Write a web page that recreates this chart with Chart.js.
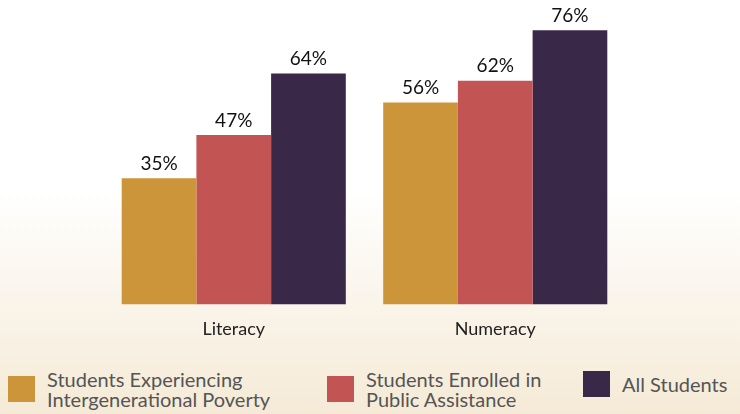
<!DOCTYPE html>
<html>
<head>
<meta charset="utf-8">
<script src="https://cdn.jsdelivr.net/npm/chart.js@4"></script>
<style>
    html, body { margin: 0; padding: 0; }
    body {
        width: 740px;
        height: 414px;
        overflow: hidden;
        background: linear-gradient(to bottom, #ffffff 0px, #ffffff 190px, #f5ead6 414px);
        font-family: Lato, "Open Sans", sans-serif;
    }
    #wrap { position: relative; width: 740px; height: 350px; }
    #legend { position: relative; height: 64px; }
    .item { position: absolute; top: 19px; display: flex; align-items: center; }
    .box { width: 27px; height: 26px; margin-right: 12px; }
    .txt { color: #555; font-size: 20px; line-height: 20px; }
</style>
</head>
<body>
<div id="wrap"><canvas id="chart"></canvas></div>
<div id="legend"></div>
<script>
const categories = ["Literacy", "Numeracy"];
const seriesNames = [
    ["Students Experiencing", "Intergenerational Poverty"],
    ["Students Enrolled in", "Public Assistance"],
    ["All Students"],
];
const povertyValues = [35, 56];
const assistanceValues = [47, 62];
const allValues = [64, 76];
const colors = ["#cc953a", "#c25454", "#3a2848"];

// percent labels above each bar
const barLabels = {
    id: "barLabels",
    afterDatasetsDraw(chart) {
        const ctx = chart.ctx;
        ctx.save();
        ctx.font = "19px Lato";
        ctx.fillStyle = "#111";
        ctx.textAlign = "center";
        ctx.textBaseline = "bottom";
        chart.data.datasets.forEach((ds, i) => {
            chart.getDatasetMeta(i).data.forEach((bar, j) => {
                ctx.fillText(ds.data[j] + "%", bar.x, bar.y - 5);
            });
        });
        ctx.restore();
    },
};

const allSeries = [povertyValues, assistanceValues, allValues];
new Chart(document.getElementById("chart"), {
    type: "bar",
    data: {
        labels: categories,
        datasets: allSeries.map((data, i) => ({
            label: seriesNames[i].join(" "),
            data,
            backgroundColor: colors[i],
            borderWidth: 0,
        })),
    },
    options: {
        responsive: true,
        maintainAspectRatio: false,
        animation: false,
        categoryPercentage: 0.857,
        barPercentage: 1,
        layout: { padding: { left: 103, right: 114, top: 0, bottom: 4 } },
        plugins: { legend: { display: false }, tooltip: { enabled: false } },
        scales: {
            x: {
                grid: { display: false },
                border: { display: false },
                ticks: { color: "#222", font: { family: "Lato", size: 18 }, padding: 6 },
            },
            y: { display: false, min: 0, max: 84.4 },
        },
    },
    plugins: [barLabels],
});

const legend = document.getElementById("legend");
const legendX = [8, 327, 583];
seriesNames.forEach((lines, i) => {
    const item = document.createElement("div");
    item.className = "item";
    item.style.left = legendX[i] + "px";
    if (lines.length === 1) item.style.top = "21px";
    const box = document.createElement("div");
    box.className = "box";
    box.style.background = colors[i];
    const txt = document.createElement("div");
    txt.className = "txt";
    txt.innerHTML = lines.join("<br>");
    item.appendChild(box);
    item.appendChild(txt);
    legend.appendChild(item);
});
</script>
</body>
</html>
